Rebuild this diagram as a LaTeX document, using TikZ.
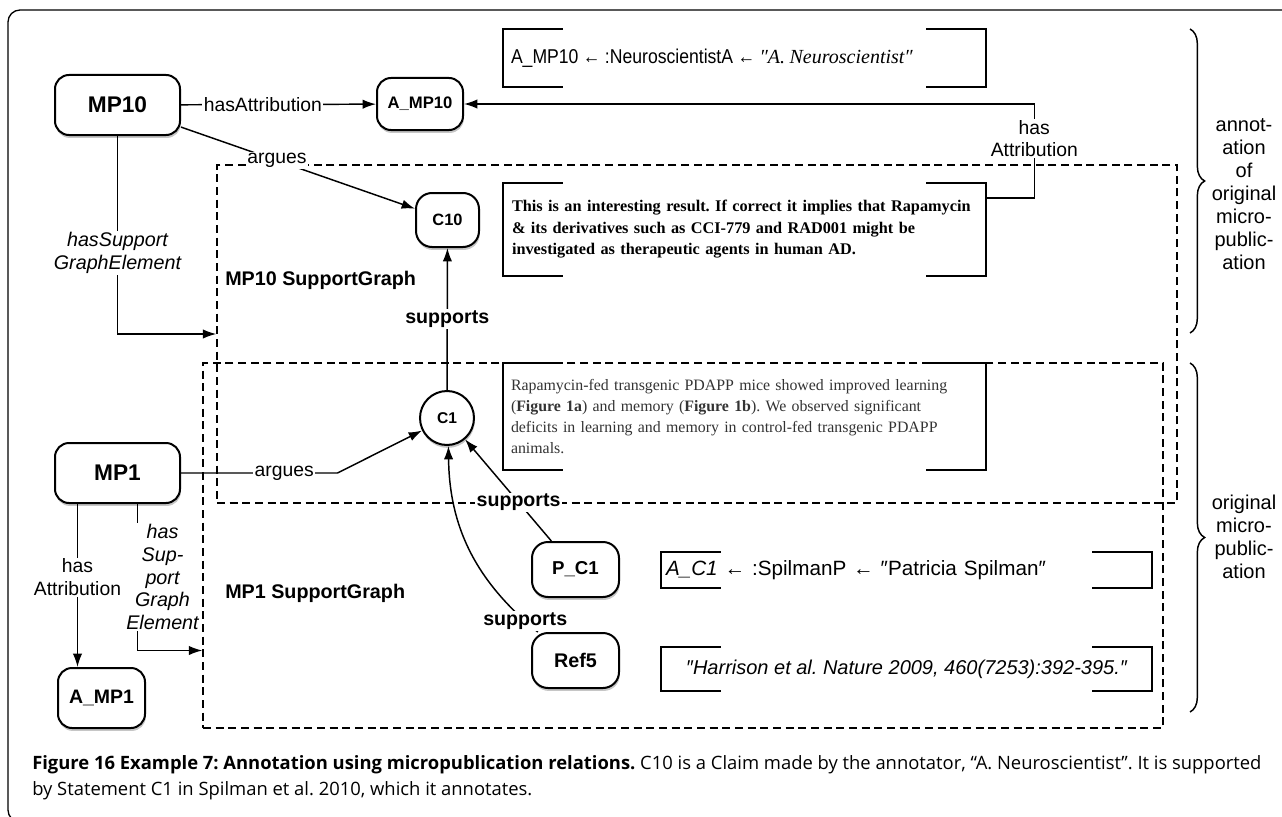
\documentclass[tikz,border=0pt]{standalone}
\usepackage{fontspec}
\setmainfont{Liberation Sans}
\newfontfamily\tmfont{Liberation Serif}
\newfontfamily\nrfont{Liberation Sans}[FakeStretch=0.88]
\newfontfamily\capfont{Open Sans}
\usetikzlibrary{arrows.meta,shadows,decorations.pathreplacing}
\newdimen\pxu \pxu=0.75pt
\frenchspacing

\begin{document}
\begin{tikzpicture}[x=\pxu,y=-\pxu,
  box/.style={draw,line width=1.5pt,rounded corners=14\pxu,fill=white,
    drop shadow={shadow xshift=0.6pt,shadow yshift=-2.2pt,opacity=0.45}},
  conn/.style={line width=1.1pt,-{Latex[length=10pt,width=7pt]}},
  lab/.style={fill=white,inner sep=1pt,font=\fontsize{14.5}{17}\selectfont},
  slab/.style={lab,font=\bfseries\fontsize{14.7}{17}\selectfont},
  sg/.style={draw,line width=1.1pt,dash pattern=on 6pt off 3.5pt},
  brk/.style={line width=1.4pt},
  note/.style={inner sep=0,inner xsep=8\pxu,align=left}]
\useasboundingbox (0,0) rectangle (1282,817);
\draw[line width=1pt,rounded corners=12\pxu] (1300,10) -- (8,10) -- (8,822) -- (1300,822);

\node[sg,minimum width=960\pxu,minimum height=338\pxu] (sgten) at (697,334) {};
\node[sg,minimum width=960\pxu,minimum height=365\pxu] (sgone) at (683,545.5) {};
\node[anchor=west,inner sep=0,font=\bfseries\fontsize{14.8}{17}\selectfont] (sgtenlbl) at (225,280) {MP10 SupportGraph};
\node[anchor=west,inner sep=0,font=\bfseries\fontsize{14.8}{17}\selectfont] (sgonelbl) at (225,593) {MP1 SupportGraph};

\node[note,text width=467\pxu,minimum height=58\pxu] (attten) at (744.5,58)
  {{\nrfont\fontsize{15}{18}\selectfont A\_MP10 ← :NeuroscientistA ← }{\tmfont\itshape\fontsize{15}{18}\selectfont ″A. Neuroscientist″}};
\node[note,text width=465\pxu,inner xsep=9\pxu,minimum height=93\pxu,font=\tmfont\bfseries\fontsize{12.2}{16.1}\selectfont] (clmten) at (744.5,229.5)
  {This is an interesting result. If correct it implies that Rapamycin\\
   \& its derivatives such as CCI-779 and RAD001 might be\\
   investigated as therapeutic agents in human AD.};
\node[note,text width=467\pxu,minimum height=107\pxu,text=black!80,font=\tmfont\fontsize{11.9}{15.8}\selectfont] (stmone) at (744.5,416.5)
  {Rapamycin-fed transgenic PDAPP mice showed improved learning\\
   (\textbf{Figure 1a}) and memory (\textbf{Figure 1b}). We observed significant\\
   deficits in learning and memory in control-fed transgenic PDAPP\\
   animals.};
\node[note,text width=481\pxu,inner xsep=5\pxu,minimum height=36\pxu,font=\fontsize{15.5}{18}\selectfont] (attone) at (906.5,570)
  {{\itshape A\_C1} ← :SpilmanP ← ″Patricia Spilman″};
\node[inner sep=0,minimum width=491\pxu,minimum height=44\pxu,font=\itshape\fontsize{15}{18}\selectfont] (refone) at (906.5,669)
  {″Harrison et al. Nature 2009, 460(7253):392-395.″};
\foreach \n in {attten,clmten,stmone,attone,refone}{
  \draw[brk] ([xshift=45pt]\n.north west) -- (\n.north west) -- (\n.south west) -- ([xshift=45pt]\n.south west);
  \draw[brk] ([xshift=-45pt]\n.north east) -- (\n.north east) -- (\n.south east) -- ([xshift=-45pt]\n.south east);
}

\node[box,minimum width=125\pxu,minimum height=60\pxu,font=\bfseries\fontsize{17}{20}\selectfont] (mp10) at (117.5,105) {MP10};
\node[box,minimum width=86\pxu,minimum height=52\pxu,font=\bfseries\fontsize{12.5}{14}\selectfont] (amp10) at (420,104) {A\_MP10};
\node[box,rounded corners=16\pxu,minimum width=63\pxu,minimum height=54\pxu,font=\bfseries\fontsize{12.3}{14}\selectfont] (c10) at (447.5,220) {C10};
\node[box,circle,minimum size=54\pxu,inner sep=0,font=\bfseries\fontsize{11.7}{14}\selectfont] (c1) at (447,418) {C1};
\node[box,rounded corners=16\pxu,minimum width=87\pxu,minimum height=55\pxu,font=\bfseries\fontsize{14}{16}\selectfont] (pc1) at (575.5,569.5) {P\_C1};
\node[box,rounded corners=16\pxu,minimum width=87\pxu,minimum height=55\pxu,font=\bfseries\fontsize{14.8}{16}\selectfont] (ref5) at (575.5,660.5) {Ref5};
\node[box,minimum width=125\pxu,minimum height=60\pxu,font=\bfseries\fontsize{17}{20}\selectfont] (mp1) at (117.5,473) {MP1};
\node[box,minimum width=87\pxu,minimum height=60\pxu,font=\bfseries\fontsize{14.6}{16}\selectfont] (amp1) at (101.5,698) {A\_MP1};

\draw[conn] (mp10) -- node[lab,pos=0.42]{hasAttribution} (amp10);
\draw[conn] (mp10) -- node[lab,pos=0.41]{argues} (c10);
\draw[conn] (mp10) |- node[lab,pos=0.295,align=center,font=\itshape\fontsize{14.8}{17}\selectfont]{hasSupport\\GraphElement} (sgten.west);
\draw[conn] ([yshift=31.5\pxu]clmten.east) -- ++(48,0) |- node[lab,pos=0.316,align=center]{has\\Attribution} (amp10);
\draw[conn] (c1) -- node[slab]{supports} (c10);
\draw[conn] (pc1) -- node[slab,pos=0.38]{supports} (c1);
\draw[conn] (ref5) to[bend left=25] node[slab,pos=0.07]{supports} (c1);
\draw[conn] (mp1) -- node[lab,pos=0.66]{argues} ++(220,0) -- (c1);
\draw[conn] ([xshift=-40\pxu]mp1.south) -- node[lab,pos=0.45,align=center]{has\\Attribution} ([xshift=-40\pxu]mp1.south |- amp1.north);
\draw[conn] ([xshift=20\pxu]mp1.south) |- node[lab,pos=0.25,xshift=25\pxu,align=center,font=\itshape\fontsize{14.8}{17}\selectfont]{has\\Sup-\\port\\Graph\\Element} ([yshift=-105\pxu]sgone.west);

\draw[line width=1.1pt,decorate,decoration={brace,amplitude=11pt}] (1190,29) -- (1190,333);
\draw[line width=1.1pt,decorate,decoration={brace,amplitude=11pt}] (1190,363) -- (1190,712);
\node[align=center,font=\fontsize{15}{17.2}\selectfont] (annlbl) at (1244,194) {annot-\\ation\\of\\original\\micro-\\public-\\ation};
\node[align=center,font=\fontsize{15}{17.2}\selectfont] (orglbl) at (1244,537) {original\\micro-\\public-\\ation};

\node[anchor=north west,inner sep=0,align=left,font=\capfont\fontsize{13.8}{20}\selectfont] (caption) at (32,755)
  {\textbf{Figure 16 Example 7: Annotation using micropublication relations.} C10 is a Claim made by the annotator, “A. Neuroscientist”. It is supported\\
   by Statement C1 in Spilman et al. 2010, which it annotates.};
\end{tikzpicture}
\end{document}
